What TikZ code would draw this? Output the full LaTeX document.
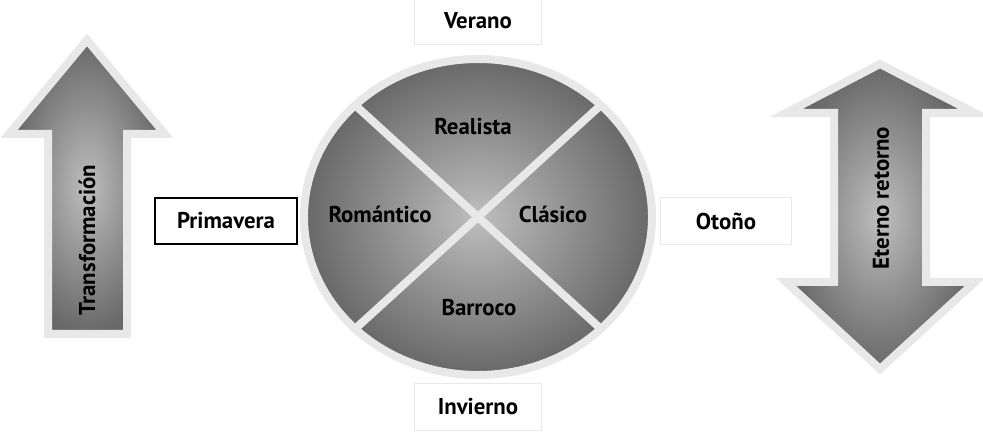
\documentclass[tikz,border=0pt]{standalone}
\usepackage{fontspec}
\setmainfont{PT Sans}
\usepackage{tikz}
\usetikzlibrary{positioning}

\definecolor{rim}{RGB}{232,232,232}
\definecolor{shadein}{RGB}{190,190,190}
\definecolor{shadeout}{RGB}{104,104,104}

\begin{document}
\begin{tikzpicture}[x=0.03cm, y=-0.03cm,
season/.style={draw=rim, line width=1pt, fill=white, minimum width=3.8cm, minimum height=1.4cm},
arrowbody/.style={draw=rim, line width=0.24cm, line join=miter, inner color=shadein, outer color=shadeout},
txt/.style={font=\fontsize{19.5}{21}\selectfont\bfseries}]
\tikzstyle{every node}=[txt]

\useasboundingbox (0,0) rectangle (983,432);

\draw[arrowbody] (87,40) -- (165,134) -- (127,134) -- (127,334) -- (48,334) -- (48,134) -- (9,134) -- cycle;
\node[rotate=90] (Trans) at (87,240) {Transformación};

\draw[arrowbody] (880,64) -- (975,113) -- (926,113) -- (926,282) -- (975,282) -- (880,369)
    -- (786,282) -- (834,282) -- (834,113) -- (786,113) -- cycle;
\node[rotate=90] (Eterno) at (881,198) {Eterno retorno};

\draw[draw=rim, line width=0.24cm, inner color=shadein, outer color=shadeout]
    (478,217) ellipse [x radius=174, y radius=158];
\coordinate (C) at (478,217);
\coordinate (NW) at (355,105);
\coordinate (NE) at (601,105);
\coordinate (SW) at (355,329);
\coordinate (SE) at (601,329);
\draw[rim, line width=0.24cm] (NW) -- (SE);
\draw[rim, line width=0.24cm] (NE) -- (SW);

\node (Realista) at (473,127) {Realista};
\node (Romantico) at (380,214) {Romántico};
\node (Clasico) at (553,214) {Clásico};
\node (Barroco) at (479,308) {Barroco};

\node[season, draw=black, line width=1.5pt, minimum width=4.25cm] (Primavera) at (226,221) {Primavera};
\node[season] (Verano) at (478,21) {Verano};
\node[season, minimum width=3.95cm] (Otono) at (726,221) {Otoño};
\node[season] (Invierno) at (478,407) {Invierno};

\end{tikzpicture}
\end{document}
